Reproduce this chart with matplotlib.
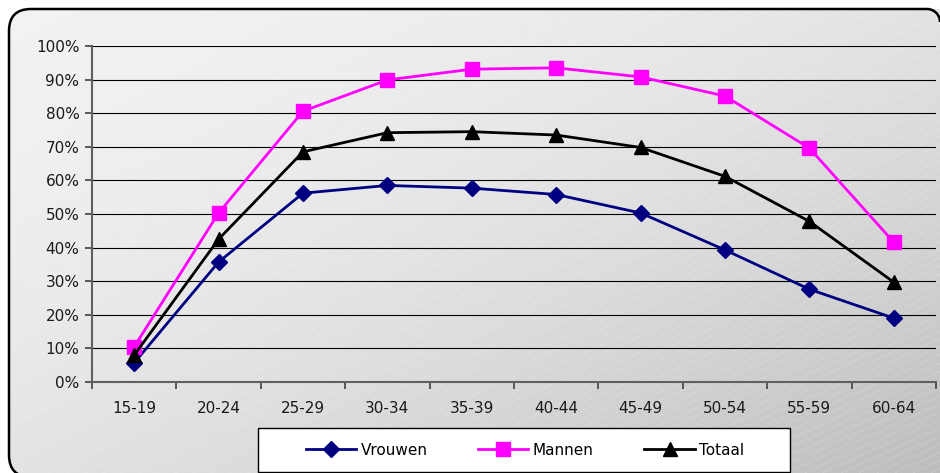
import numpy as np
import matplotlib.pyplot as plt
from matplotlib.patches import FancyBboxPatch, Rectangle, Arc
from matplotlib.ticker import MultipleLocator, FuncFormatter

plt.rcParams['font.family'] = ['DejaVu Sans']
plt.rcParams['font.size'] = 11

# --- data ---
age_groups = ['15-19', '20-24', '25-29', '30-34', '35-39',
              '40-44', '45-49', '50-54', '55-59', '60-64']
vrouwen = [5.7, 35.7, 56.2, 58.5, 57.7, 55.8, 50.3, 39.3, 27.6, 19.0]
mannen = [10.5, 50.3, 80.6, 89.9, 93.1, 93.5, 90.8, 85.1, 69.6, 41.6]
totaal = [8.0, 42.5, 68.5, 74.2, 74.5, 73.5, 69.8, 61.2, 47.8, 29.7]

W, H = 940, 473
fig = plt.figure(figsize=(W / 100, H / 100), dpi=100)

# background axes in pixel coords (y upwards)
bg = fig.add_axes([0, 0, 1, 1], zorder=0)
bg.set_xlim(0, W)
bg.set_ylim(0, H)
bg.axis('off')

# rounded frame: left part from a fancy box, small arc at the top-right corner
box = FancyBboxPatch((9, -4), 1000, 468, boxstyle='round,pad=0,rounding_size=22',
                     facecolor='none', edgecolor='black', linewidth=1.8, zorder=3)
bg.add_patch(box)
cut = Rectangle((0, 0), 927, H, transform=bg.transData, visible=False)
bg.add_patch(cut)
box.set_clip_path(cut)
bg.add_patch(Arc((927, 451), 26, 26, theta1=0, theta2=90,
                 color='black', lw=1.8, zorder=3))

# diagonal gradient, light top-left to darker bottom-right
gx, gy = np.meshgrid(np.linspace(0, 1, 300), np.linspace(0, 1, 150))
t = (gx + gy) / 2
shade = 0.95 - 0.21 * t ** 1.8
rgb = np.dstack([shade, shade, shade])
img = bg.imshow(rgb, extent=[0, W, 0, H], origin='upper', aspect='auto', zorder=1)
img.set_clip_path(box)

# faint white dashed stripes
for c in np.arange(-600, 1500, 18):
    xs = np.array([0, W])
    ys = (xs - c) * 0.45
    ln, = bg.plot(xs, ys, color='white', lw=0.7, alpha=0.3,
                  linestyle=(0, (2, 2)), zorder=2)
    ln.set_clip_path(box)

# main plot
ax = fig.add_axes([92 / W, (H - 382) / H, (936 - 92) / W, (382 - 46) / H], zorder=2)
ax.set_facecolor('none')
x = np.arange(len(age_groups))

ax.plot(x, vrouwen, color='#000080', lw=2, marker='D', markersize=8.5,
        label='Vrouwen', zorder=4)
ax.plot(x, mannen, color='#ff00ff', lw=2, marker='s', markersize=10,
        label='Mannen', zorder=4)
ax.plot(x, totaal, color='black', lw=2, marker='^', markersize=10,
        label='Totaal', zorder=5)

ax.set_xlim(-0.5, len(age_groups) - 0.5)
ax.set_ylim(0, 100)
ax.yaxis.set_major_locator(MultipleLocator(10))
ax.yaxis.set_major_formatter(FuncFormatter(lambda v, p: f'{int(v)}%'))
ax.grid(axis='y', color='black', lw=0.8, zorder=1)
ax.set_axisbelow(True)

ax.set_xticks(x)
ax.set_xticklabels(age_groups)
ax.set_xticks(np.arange(-0.5, len(age_groups)), minor=True)
ax.tick_params(axis='x', which='major', length=0, pad=14, labelcolor='#1a1a1a')
ax.tick_params(axis='x', which='minor', length=5, color='#404040', width=1.2)
ax.tick_params(axis='y', length=5, color='#404040', width=1.2, pad=4,
               labelcolor='#1a1a1a')

for s in ['top', 'right']:
    ax.spines[s].set_visible(False)
ax.spines['left'].set_color('#606060')
ax.spines['left'].set_linewidth(1.5)
ax.spines['bottom'].set_color('#606060')
ax.spines['bottom'].set_linewidth(1.5)

# legend frame drawn by hand, legend text without frame
bg.add_patch(Rectangle((258, 1), 532, 44, facecolor='white',
                       edgecolor='black', lw=1, zorder=4))
handles, labels = ax.get_legend_handles_labels()
leg = fig.legend(handles, labels, loc='center', ncol=3, frameon=False,
                 bbox_to_anchor=(525 / W, (H - 450) / H),
                 handlelength=3.3, handletextpad=0.3, columnspacing=3.3,
                 fontsize=11)
leg.set_zorder(10)

fig.savefig('out.png', dpi=100)
